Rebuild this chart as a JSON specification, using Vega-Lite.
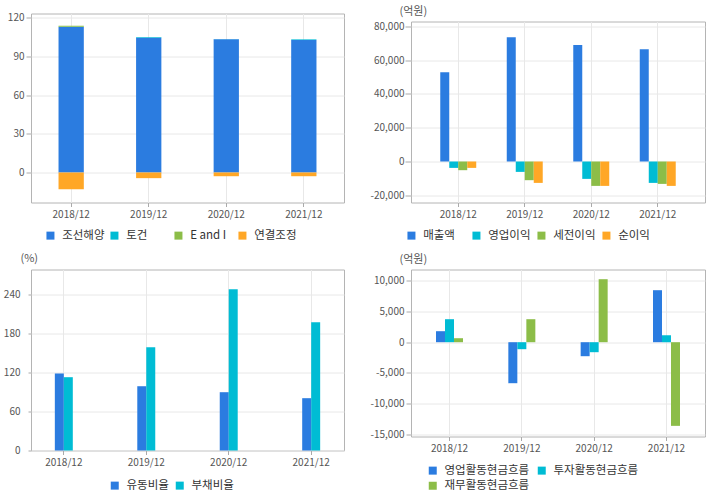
{
  "$schema": "https://vega.github.io/schema/vega-lite/v6.json",
  "autosize": {"type": "pad"},
  "padding": {"left": 2, "top": 4.5, "right": 5, "bottom": 5},
  "background": "white",
  "config": {
    "font": "Noto Sans CJK KR",
    "locale": {"number": {"decimal": ".", "thousands": ",", "grouping": [3], "currency": ["", ""], "minus": "-"}},
    "view": {"stroke": "#b4b4b4", "strokeWidth": 1},
    "axis": {
      "labelFont": "Noto Sans CJK KR", "labelFontSize": 10, "labelColor": "#555555",
      "gridColor": "#e8e8e8", "tickColor": "#aaaaaa", "domain": false,
      "titleFont": "Noto Sans CJK KR", "titleFontSize": 11, "titleFontWeight": "normal", "titleColor": "#555555"
    },
    "legend": {
      "labelFont": "Noto Sans CJK KR", "labelFontSize": 11.5, "labelColor": "#333333",
      "symbolType": "square", "symbolSize": 64, "symbolStrokeWidth": 0, "symbolOpacity": 1,
      "labelOffset": 6, "padding": 0, "title": null, "orient": "none"
    }
  },
  "resolve": {"scale": {"x": "independent", "y": "independent", "color": "independent", "xOffset": "independent"}, "legend": {"color": "independent"}},
  "spacing": 24,
  "hconcat": [
    {
      "vconcat": [
        {
          "width": 313, "height": 189,
          "data": {"values": [
            {"period": "2018/12", "seg": "조선해양", "v": 113.0, "k": 1},
            {"period": "2018/12", "seg": "토건", "v": 0.2, "k": 2},
            {"period": "2018/12", "seg": "E and I", "v": 0.6, "k": 3},
            {"period": "2018/12", "seg": "연결조정", "v": -13.0, "k": 4},
            {"period": "2019/12", "seg": "조선해양", "v": 104.5, "k": 1},
            {"period": "2019/12", "seg": "토건", "v": 0.5, "k": 2},
            {"period": "2019/12", "seg": "E and I", "v": 0.0, "k": 3},
            {"period": "2019/12", "seg": "연결조정", "v": -4.4, "k": 4},
            {"period": "2020/12", "seg": "조선해양", "v": 103.4, "k": 1},
            {"period": "2020/12", "seg": "토건", "v": 0.1, "k": 2},
            {"period": "2020/12", "seg": "E and I", "v": 0.0, "k": 3},
            {"period": "2020/12", "seg": "연결조정", "v": -2.9, "k": 4},
            {"period": "2021/12", "seg": "조선해양", "v": 102.8, "k": 1},
            {"period": "2021/12", "seg": "토건", "v": 0.5, "k": 2},
            {"period": "2021/12", "seg": "E and I", "v": 0.0, "k": 3},
            {"period": "2021/12", "seg": "연결조정", "v": -2.9, "k": 4}
          ]},
          "mark": {"type": "bar"},
          "encoding": {
            "x": {"field": "period", "type": "nominal", "title": null,
              "scale": {"paddingInner": 0.674, "paddingOuter": 0.355},
              "axis": {"labelAngle": 0, "tickSize": 4, "labelPadding": 3, "grid": true, "bandPosition": 0.5}},
            "y": {"field": "v", "type": "quantitative", "stack": "zero", "title": null,
              "scale": {"domain": [-23.3, 123.4], "nice": false, "zero": false},
              "axis": {"values": [0, 30, 60, 90, 120], "tickSize": 5, "labelPadding": 2}},
            "color": {"field": "seg", "type": "nominal",
              "scale": {"domain": ["조선해양", "토건", "E and I", "연결조정"], "range": ["#2b7ce0", "#00bcd4", "#8cbd48", "#ffa726"]},
              "legend": {"direction": "horizontal", "columns": 4, "gridAlign": "all", "legendX": 13.7, "legendY": 216, "columnPadding": 4}},
            "order": {"field": "k", "type": "quantitative"}
          }
        },
        {
          "width": 313, "height": 181,
          "data": {"values": [
            {"period": "2018/12", "item": "유동비율", "v": 118.5},
            {"period": "2018/12", "item": "부채비율", "v": 112.8},
            {"period": "2019/12", "item": "유동비율", "v": 98.9},
            {"period": "2019/12", "item": "부채비율", "v": 158.9},
            {"period": "2020/12", "item": "유동비율", "v": 89.7},
            {"period": "2020/12", "item": "부채비율", "v": 248.2},
            {"period": "2021/12", "item": "유동비율", "v": 80.5},
            {"period": "2021/12", "item": "부채비율", "v": 197.4}
          ]},
          "mark": {"type": "bar"},
          "encoding": {
            "x": {"field": "period", "type": "nominal", "title": null,
              "scale": {"paddingInner": 0.782, "paddingOuter": 0.289},
              "axis": {"labelAngle": 0, "tickSize": 4, "labelPadding": 3, "grid": true, "bandPosition": 0.5}},
            "xOffset": {"field": "item", "type": "nominal", "sort": ["유동비율", "부채비율"], "scale": {"paddingInner": 0, "paddingOuter": 0}},
            "y": {"field": "v", "type": "quantitative", "title": "(%)",
              "scale": {"domain": [0, 278.5], "nice": false},
              "axis": {"values": [0, 60, 120, 180, 240], "tickSize": 3, "labelPadding": 8,
                "titleAngle": 0, "titleX": -11, "titleY": -11, "titleAlign": "left", "titleBaseline": "middle"}},
            "color": {"field": "item", "type": "nominal",
              "scale": {"domain": ["유동비율", "부채비율"], "range": ["#2b7ce0", "#00bcd4"]},
              "legend": {"direction": "horizontal", "legendX": 78, "legendY": 210, "columnPadding": 5}}
          }
        }
      ],
      "spacing": 67,
      "bounds": "flush",
      "resolve": {"scale": {"x": "independent", "y": "independent", "color": "independent", "xOffset": "independent"}, "legend": {"color": "independent"}}
    },
    {
      "vconcat": [
        {"width": 294, "height": 8, "data": {"values": []}, "mark": {"type": "point", "opacity": 0}, "encoding": {}, "view": {"stroke": null}},
        {
          "width": 294, "height": 181,
          "data": {"values": [
            {"period": "2018/12", "item": "매출액", "v": 52900},
            {"period": "2018/12", "item": "영업이익", "v": -3790},
            {"period": "2018/12", "item": "세전이익", "v": -5150},
            {"period": "2018/12", "item": "순이익", "v": -3790},
            {"period": "2019/12", "item": "매출액", "v": 73660},
            {"period": "2019/12", "item": "영업이익", "v": -6160},
            {"period": "2019/12", "item": "세전이익", "v": -11080},
            {"period": "2019/12", "item": "순이익", "v": -12680},
            {"period": "2020/12", "item": "매출액", "v": 69100},
            {"period": "2020/12", "item": "영업이익", "v": -10300},
            {"period": "2020/12", "item": "세전이익", "v": -14460},
            {"period": "2020/12", "item": "순이익", "v": -14460},
            {"period": "2021/12", "item": "매출액", "v": 66550},
            {"period": "2021/12", "item": "영업이익", "v": -12680},
            {"period": "2021/12", "item": "세전이익", "v": -13270},
            {"period": "2021/12", "item": "순이익", "v": -14460}
          ]},
          "mark": {"type": "bar"},
          "encoding": {
            "x": {"field": "period", "type": "nominal", "title": null,
              "scale": {"paddingInner": 0.459, "paddingOuter": 0.44},
              "axis": {"labelAngle": 0, "tickSize": 4, "labelPadding": 3, "grid": true, "bandPosition": 0.5}},
            "xOffset": {"field": "item", "type": "nominal", "sort": ["매출액", "영업이익", "세전이익", "순이익"], "scale": {"paddingInner": 0, "paddingOuter": 0}},
            "y": {"field": "v", "type": "quantitative", "title": "(억원)",
              "scale": {"domain": [-24300, 82960], "nice": false, "zero": false},
              "axis": {"values": [-20000, 0, 20000, 40000, 60000, 80000], "format": ",d", "tickSize": 6, "labelPadding": 1,
                "titleAngle": 0, "titleX": -12, "titleY": -10.3, "titleAlign": "left", "titleBaseline": "middle"}},
            "color": {"field": "item", "type": "nominal",
              "scale": {"domain": ["매출액", "영업이익", "세전이익", "순이익"], "range": ["#2b7ce0", "#00bcd4", "#8cbd48", "#ffa726"]},
              "legend": {"direction": "horizontal", "columns": 4, "gridAlign": "all", "legendX": -5.3, "legendY": 208, "columnPadding": 5}}
          }
        },
        {"width": 294, "height": 67, "data": {"values": []}, "mark": {"type": "point", "opacity": 0}, "encoding": {}, "view": {"stroke": null}},
        {
          "width": 294, "height": 167,
          "data": {"values": [
            {"period": "2018/12", "item": "영업활동현금흐름", "v": 1794},
            {"period": "2018/12", "item": "투자활동현금흐름", "v": 3750},
            {"period": "2018/12", "item": "재무활동현금흐름", "v": 650},
            {"period": "2019/12", "item": "영업활동현금흐름", "v": -6685},
            {"period": "2019/12", "item": "투자활동현금흐름", "v": -1140},
            {"period": "2019/12", "item": "재무활동현금흐름", "v": 3750},
            {"period": "2020/12", "item": "영업활동현금흐름", "v": -2283},
            {"period": "2020/12", "item": "투자활동현금흐름", "v": -1630},
            {"period": "2020/12", "item": "재무활동현금흐름", "v": 10272},
            {"period": "2021/12", "item": "영업활동현금흐름", "v": 8478},
            {"period": "2021/12", "item": "투자활동현금흐름", "v": 1141},
            {"period": "2021/12", "item": "재무활동현금흐름", "v": -13640}
          ]},
          "mark": {"type": "bar"},
          "encoding": {
            "x": {"field": "period", "type": "nominal", "title": null,
              "scale": {"paddingInner": 0.6266, "paddingOuter": 0.346},
              "axis": {"labelAngle": 0, "tickSize": 4, "labelPadding": 3, "grid": true, "bandPosition": 0.5}},
            "xOffset": {"field": "item", "type": "nominal", "sort": ["영업활동현금흐름", "투자활동현금흐름", "재무활동현금흐름"], "scale": {"paddingInner": 0, "paddingOuter": 0}},
            "y": {"field": "v", "type": "quantitative", "title": "(억원)",
              "scale": {"domain": [-15375, 11853], "nice": false, "zero": false},
              "axis": {"values": [-15000, -10000, -5000, 0, 5000, 10000], "format": ",d", "tickSize": 5, "labelPadding": 2,
                "titleAngle": 0, "titleX": -12, "titleY": -10, "titleAlign": "left", "titleBaseline": "middle"}},
            "color": {"field": "item", "type": "nominal",
              "scale": {"domain": ["영업활동현금흐름", "투자활동현금흐름", "재무활동현금흐름"], "range": ["#2b7ce0", "#00bcd4", "#8cbd48"]},
              "legend": {"direction": "horizontal", "columns": 2, "legendX": 16, "legendY": 195, "columnPadding": 6, "rowPadding": 2.5}}
          }
        }
      ],
      "spacing": 0,
      "bounds": "flush",
      "resolve": {"scale": {"x": "independent", "y": "independent", "color": "independent", "xOffset": "independent"}, "legend": {"color": "independent"}}
    }
  ]
}
